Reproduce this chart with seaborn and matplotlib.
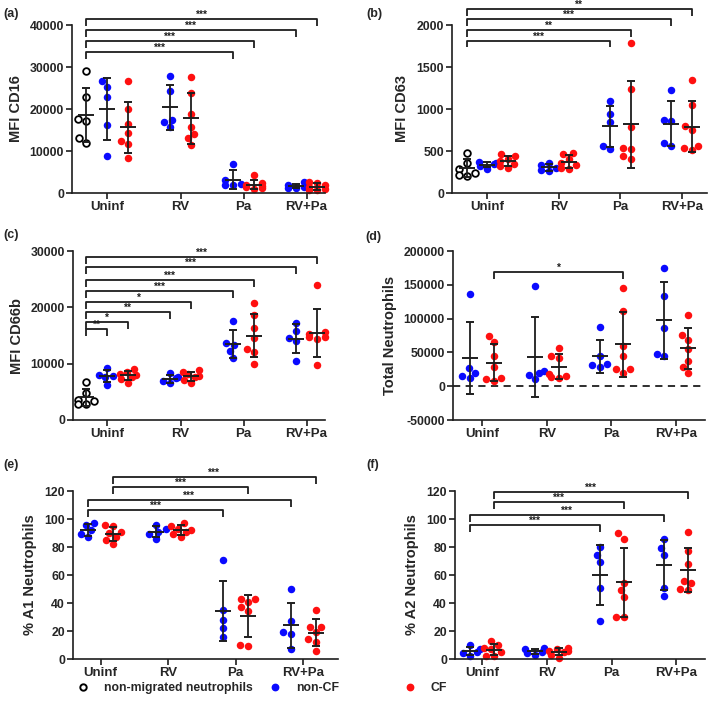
import warnings
import pandas as pd
import seaborn as sns
import matplotlib.pyplot as plt
from matplotlib.lines import Line2D

warnings.filterwarnings("ignore")

conditions = ["Uninf", "RV", "Pa", "RV+Pa"]

# (a) MFI CD16
cd16_nonmig = [29000, 22900, 17500, 17100, 13200, 12000]
cd16_noncf = [[26700, 25300, 22900, 16100, 8900],
              [27900, 24300, 17300, 16800, 15600],
              [7000, 3000, 2200, 2000, 1800],
              [2600, 1800, 1500, 1300, 1200]]
cd16_cf = [[26600, 20100, 16500, 14300, 12300, 11600, 8300],
           [27700, 23700, 18700, 15700, 14000, 13000, 11400],
           [4400, 2300, 2000, 1700, 1500, 1200, 1000],
           [2600, 2500, 1800, 1400, 1000, 800, 600]]

# (b) MFI CD63
cd63_nonmig = [480, 360, 290, 240, 210, 200]
cd63_noncf = [[370, 360, 340, 320, 290],
              [360, 330, 300, 270, 260],
              [1090, 940, 850, 560, 520],
              [1230, 870, 860, 600, 560]]
cd63_cf = [[460, 440, 410, 380, 350, 320, 300],
           [480, 460, 400, 360, 330, 300, 290],
           [1790, 1240, 790, 540, 520, 440, 400],
           [1340, 1050, 800, 750, 560, 530, 510]]

# (c) MFI CD66b
cd66b_nonmig = [6800, 4800, 3600, 3300, 2900, 2800]
cd66b_noncf = [[9300, 7900, 7800, 7600, 6300],
               [8300, 7600, 7400, 6900, 6500],
               [17500, 13600, 13300, 12200, 11000],
               [17300, 15800, 14500, 14000, 10400]]
cd66b_cf = [[9100, 8600, 8200, 7900, 7700, 7300, 6600],
            [8800, 8500, 8200, 7800, 7600, 7100, 6500],
            [20700, 18600, 16400, 14600, 12600, 12100, 10000],
            [24000, 15600, 15300, 14800, 14700, 14400, 9700]]

# (d) Total neutrophils
total_noncf = [[136000, 27000, 20000, 15000, 12000],
               [148000, 22000, 19000, 17000, 10000],
               [87000, 44000, 33000, 31000, 28000],
               [175000, 133000, 86000, 48000, 44000]]
total_cf = [[74000, 65000, 45000, 28000, 12000, 11000, 8000],
            [56000, 45000, 42000, 18000, 15000, 14000, 12000],
            [146000, 111000, 59000, 45000, 26000, 25000, 20000],
            [106000, 76000, 69000, 55000, 38000, 28000, 20000]]

# (e) % A1 neutrophils
a1_noncf = [[97, 96, 92, 89, 87],
            [96, 93, 91, 89, 86],
            [71, 35, 28, 22, 16],
            [50, 27, 19, 18, 7]]
a1_cf = [[96, 95, 91, 90, 87, 85, 82],
         [97, 95, 93, 92, 91, 89, 87],
         [43, 43, 41, 37, 34, 10, 9],
         [35, 23, 23, 19, 14, 12, 6]]

# (f) % A2 neutrophils
a2_noncf = [[10, 7, 5, 4, 2],
            [8, 7, 5, 4, 3],
            [80, 74, 69, 51, 27],
            [86, 79, 74, 51, 45]]
a2_cf = [[13, 10, 8, 7, 5, 2, 2],
         [8, 7, 6, 6, 5, 3, 1],
         [90, 86, 54, 49, 44, 30, 30],
         [91, 77, 68, 56, 54, 50, 49]]

# significance brackets: (group1, cond1, group2, cond2, y, label)
NM, NC, CF = "non-migrated", "non-CF", "CF"
br_a = [(NM, "Uninf", NC, "Pa", 33600, "***"), (NM, "Uninf", CF, "Pa", 36200, "***"),
        (NM, "Uninf", NC, "RV+Pa", 38800, "***"), (NM, "Uninf", CF, "RV+Pa", 41400, "***")]
br_b = [(NM, "Uninf", NC, "Pa", 1813, "***"), (NM, "Uninf", CF, "Pa", 1940, "**"),
        (NM, "Uninf", NC, "RV+Pa", 2068, "***"), (NM, "Uninf", CF, "RV+Pa", 2187, "**")]
br_c = [(NM, "Uninf", NC, "Uninf", 16150, "**"), (NM, "Uninf", CF, "Uninf", 17400, "*"),
        (NM, "Uninf", NC, "RV", 19170, "**"), (NM, "Uninf", CF, "RV", 20950, "*"),
        (NM, "Uninf", NC, "Pa", 22900, "***"), (NM, "Uninf", CF, "Pa", 24850, "***"),
        (NM, "Uninf", NC, "RV+Pa", 27160, "***"), (NM, "Uninf", CF, "RV+Pa", 28940, "***")]
br_d = [(CF, "Uninf", CF, "Pa", 169000, "*")]
br_e = [(NC, "Uninf", NC, "Pa", 106.4, "***"), (NC, "Uninf", NC, "RV+Pa", 113.6, "***"),
        (CF, "Uninf", CF, "Pa", 122.9, "***"), (CF, "Uninf", CF, "RV+Pa", 130.0, "***")]
br_f = [(NC, "Uninf", NC, "Pa", 95.7, "***"), (NC, "Uninf", NC, "RV+Pa", 102.9, "***"),
        (CF, "Uninf", CF, "Pa", 112.1, "***"), (CF, "Uninf", CF, "RV+Pa", 119.3, "***")]

W, H = 709, 711
panels = [
    dict(tag="(a)", ylabel="MFI CD16", nonmig=cd16_nonmig, noncf=cd16_noncf, cf=cd16_cf,
         ylim=(0, 40000), ystep=10000, brackets=br_a, px=(72, 25, 325, 193),
         xlim=(-0.67, 11.38), tagxy=(3, 14)),
    dict(tag="(b)", ylabel="MFI CD63", nonmig=cd63_nonmig, noncf=cd63_noncf, cf=cd63_cf,
         ylim=(0, 2000), ystep=500, brackets=br_b, px=(452, 25, 707, 193),
         xlim=(-0.73, 11.74), tagxy=(366, 14)),
    dict(tag="(c)", ylabel="MFI CD66b", nonmig=cd66b_nonmig, noncf=cd66b_noncf, cf=cd66b_cf,
         ylim=(0, 30000), ystep=10000, brackets=br_c, px=(73, 251, 325, 420),
         xlim=(-0.62, 11.38), tagxy=(3, 235)),
    dict(tag="(d)", ylabel="Total Neutrophils", nonmig=None, noncf=total_noncf, cf=total_cf,
         ylim=(-50000, 200000), ystep=50000, brackets=br_d, px=(453, 251, 705, 420),
         xlim=(-0.71, 9.8), tagxy=(365, 237)),
    dict(tag="(e)", ylabel="% A1 Neutrophils", nonmig=None, noncf=a1_noncf, cf=a1_cf,
         ylim=(0, 120), ystep=20, brackets=br_e, px=(73, 491, 338, 659),
         xlim=(-0.6, 10.0), tagxy=(3, 465)),
    dict(tag="(f)", ylabel="% A2 Neutrophils", nonmig=None, noncf=a2_noncf, cf=a2_cf,
         ylim=(0, 120), ystep=20, brackets=br_f, px=(455, 491, 705, 659),
         xlim=(-0.63, 9.8), tagxy=(366, 465)),
]

colors = {NM: "white", NC: "#0a0aff", CF: "#ff1010"}
INK = "#1e1e1e"

sns.set_style("ticks")
plt.rcParams["font.family"] = ["Liberation Sans", "DejaVu Sans"]
plt.rcParams["font.weight"] = "bold"
plt.rcParams["axes.labelweight"] = "bold"

fig = plt.figure(figsize=(W / 100, H / 100), dpi=100)


def positions(three):
    pos, centers = {}, []
    for i, c in enumerate(conditions):
        if three:
            pos[(NC, c)] = [1, 4, 7, 10][i]
            pos[(CF, c)] = [2, 5, 8, 11][i]
            centers.append(1 if i == 0 else (pos[(NC, c)] + pos[(CF, c)]) / 2)
        else:
            pos[(NC, c)] = 2.7 * i
            pos[(CF, c)] = 2.7 * i + 1
            centers.append(2.7 * i + 0.5)
    if three:
        pos[(NM, "Uninf")] = 0
    return pos, centers


for p in panels:
    three = p["nonmig"] is not None
    pos, centers = positions(three)
    rows = []
    if three:
        rows += [(NM, "Uninf", v) for v in p["nonmig"]]
    for g, vals in ((NC, p["noncf"]), (CF, p["cf"])):
        for c, vs in zip(conditions, vals):
            rows += [(g, c, v) for v in vs]
    df = pd.DataFrame(rows, columns=["group", "cond", "value"])
    df["pos"] = [pos[(g, c)] for g, c in zip(df["group"], df["cond"])]

    x0, y0, x1, y1 = p["px"]
    ax = fig.add_axes([x0 / W, 1 - y1 / H, (x1 - x0) / W, (y1 - y0) / H])

    # one swarm per column keeps each cloud narrow
    for (g, c), sub in df.groupby(["group", "cond"], sort=False):
        if g == NM:
            sns.swarmplot(data=sub, x="pos", y="value", native_scale=True, orient="x",
                          color="white", edgecolor="black", linewidth=1.3, size=4.8,
                          clip_on=False, zorder=2, ax=ax)
        else:
            sns.swarmplot(data=sub, x="pos", y="value", native_scale=True, orient="x",
                          color=colors[g], linewidth=0, size=5.4,
                          clip_on=False, zorder=2, ax=ax)

    stats = df.groupby("pos")["value"].agg(["mean", "std"]).reset_index()
    ax.errorbar(stats["pos"], stats["mean"], yerr=stats["std"], fmt="_", color=INK,
                markersize=11, mew=1.4, elinewidth=1.3, capsize=3.2, capthick=1.3,
                zorder=3, clip_on=False)

    if p["ylim"][0] < 0:
        ax.axhline(0, color=INK, lw=1.3, ls=(0, (4, 3)), zorder=1)

    lo, hi = p["ylim"]
    drop = 0.04 * (hi - lo)
    for g1, c1, g2, c2, yb, lab in p["brackets"]:
        xa, xb = pos[(g1, c1)], pos[(g2, c2)]
        ax.plot([xa, xa, xb, xb], [yb - drop, yb, yb, yb - drop], color=INK, lw=1.3,
                clip_on=False, solid_capstyle="butt")
        ax.text((xa + xb) / 2, yb - 0.006 * (hi - lo), lab, ha="center", va="bottom",
                fontsize=7.3, color=INK, clip_on=False)

    yt = list(range(lo, hi + 1, p["ystep"]))
    ax.set_xlim(*p["xlim"])
    ax.set_ylim(lo, hi)
    ax.set_yticks(yt, labels=[str(t) for t in yt], fontsize=8.8, fontweight="bold")
    ax.set_xticks(centers, labels=conditions, fontsize=9.5, fontweight="bold")
    ax.set_xlabel("")
    ax.set_ylabel(p["ylabel"], fontsize=10.5, fontweight="bold", labelpad=5)
    ax.tick_params(axis="both", direction="out", length=4.3, width=1.2, color=INK, pad=1.5)
    sns.despine(ax=ax)
    for s in ("left", "bottom"):
        ax.spines[s].set_linewidth(1.2)
        ax.spines[s].set_color(INK)
    fig.text(p["tagxy"][0] / W, 1 - p["tagxy"][1] / H, p["tag"], ha="left", va="center",
             fontsize=9, fontweight="bold")

# legend at the bottom
leg_items = [
    (Line2D([], [], ls="", marker="o", mfc="white", mec="black", mew=1.4, ms=4.6),
     "non-migrated neutrophils", 77),
    (Line2D([], [], ls="", marker="o", mfc=colors[NC], mec=colors[NC], ms=4.6), "non-CF", 269),
    (Line2D([], [], ls="", marker="o", mfc=colors[CF], mec=colors[CF], ms=4.6), "CF", 404),
]
for h, lab, xl in leg_items:
    fig.legend([h], [lab], loc="center left", bbox_to_anchor=(xl / W, 1 - 688 / H),
               frameon=False, borderpad=0, borderaxespad=0, handlelength=1,
               handletextpad=1.2, prop=dict(size=8.8, weight="bold"))

fig.savefig("out.png", dpi=100)
